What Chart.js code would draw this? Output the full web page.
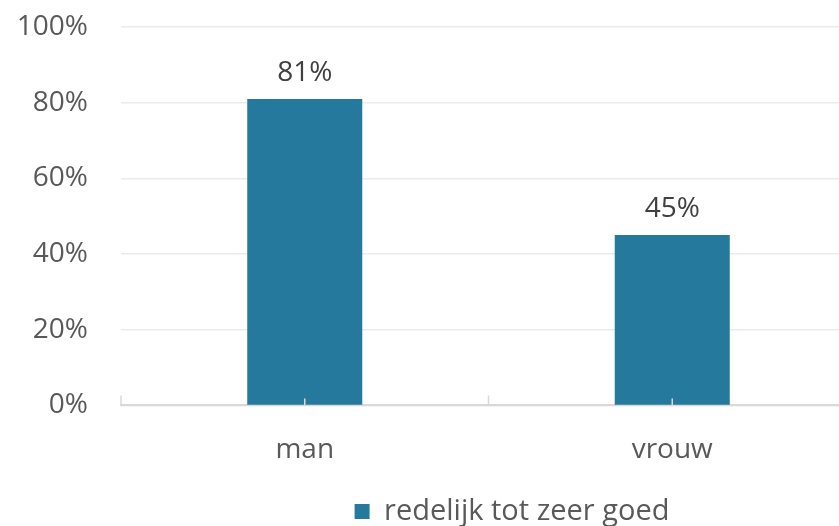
<!DOCTYPE html>
<html>
<head>
<meta charset="utf-8">
<script src="https://cdn.jsdelivr.net/npm/chart.js@4/dist/chart.umd.min.js"></script>
<style>
html,body{margin:0;padding:0;overflow:hidden;background:#fff;width:839px;height:526px;}
#wrap{position:absolute;left:0;top:0;width:856px;height:526px;}
</style>
</head>
<body>
<div id="wrap"><canvas id="c" width="856" height="526"></canvas></div>
<script>
const categories = ['man', 'vrouw'];
const seriesName = 'redelijk tot zeer goed';
const values = [81, 45];
const yTicks = [0, 20, 40, 60, 80, 100];

const FONT = "'Open Sans', sans-serif";
const TEXT = '#595959';
const BAR = '#25799C';

const valueLabels = {
  id: 'valueLabels',
  afterDatasetsDraw(chart) {
    const ctx = chart.ctx;
    // x-axis tick marks (inside), at category boundaries and centres
    const xs = chart.scales.x;
    const base = chart.chartArea.bottom;
    const half = (xs.getPixelForValue(1) - xs.getPixelForValue(0)) / 2;
    ctx.save();
    ctx.strokeStyle = '#d9d9d9';
    ctx.lineWidth = 1.5;
    categories.forEach((c, i) => {
      const cx = xs.getPixelForValue(i);
      ctx.beginPath();
      ctx.moveTo(cx - half, base); ctx.lineTo(cx - half, base - 10);
      ctx.moveTo(cx, base); ctx.lineTo(cx, base - 7);
      ctx.stroke();
    });
    ctx.restore();

    ctx.save();
    ctx.font = '28px ' + FONT;
    ctx.fillStyle = '#404040';
    ctx.textAlign = 'center';
    ctx.textBaseline = 'middle';
    chart.getDatasetMeta(0).data.forEach((bar, i) => {
      ctx.fillText(values[i] + '%', bar.x, bar.y - 26);
    });
    ctx.restore();
  }
};

const legendShift = {
  id: 'legendShift',
  afterLayout(chart) {
    const lg = chart.legend;
    if (lg) { lg.left += 84; lg.right += 84; lg.top += 10; lg.bottom += 10; }
  }
};

new Chart(document.getElementById('c'), {
  type: 'bar',
  data: {
    labels: categories,
    datasets: [{
      label: seriesName,
      data: values,
      backgroundColor: BAR,
      borderWidth: 0,
      barPercentage: 1,
      categoryPercentage: 0.313
    }]
  },
  options: {
    responsive: false,
    animation: false,
    layout: { padding: { left: 0, right: 0, top: 27, bottom: 0 } },
    plugins: {
      legend: {
        position: 'bottom',
        labels: {
          font: { family: FONT, size: 29 },
          color: TEXT,
          boxWidth: 15,
          boxHeight: 15,
          padding: 0
        }
      },
      tooltip: { enabled: false }
    },
    scales: {
      x: {
        grid: { display: false },
        border: { display: true, color: '#d9d9d9', width: 2 },
        ticks: { font: { family: FONT, size: 28 }, color: TEXT, padding: 20 }
      },
      y: {
        min: 0, max: 100,
        afterBuildTicks(scale) { scale.ticks = yTicks.map(v => ({ value: v })); },
        afterFit(scale) { scale.width = 121; scale.paddingTop = 0; scale.paddingBottom = 0; },
        grid: { color: '#ebebeb', lineWidth: 1.5, drawTicks: false },
        border: { display: false },
        ticks: {
          font: { family: FONT, size: 28 },
          color: TEXT,
          padding: 33,
          callback: v => v + '%'
        }
      }
    }
  },
  plugins: [valueLabels, legendShift]
});
</script>
</body>
</html>
